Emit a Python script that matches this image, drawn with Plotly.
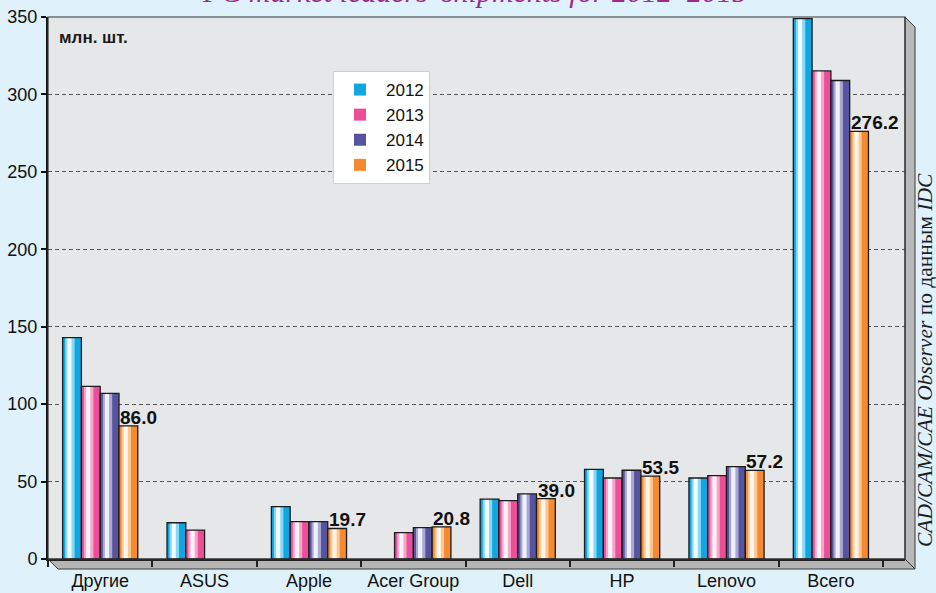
import plotly.graph_objects as go

categories = ["Другие", "ASUS", "Apple", "Acer Group", "Dell", "HP", "Lenovo", "Всего"]
years = ["2012", "2013", "2014", "2015"]
v2012 = [143.0, 23.4, 33.8, None, 38.7, 57.9, 52.3, 349.0]
v2013 = [111.5, 18.7, 24.1, 17.0, 37.7, 52.3, 53.8, 315.2]
v2014 = [107.0, None, 24.1, 20.2, 42.0, 57.3, 59.6, 309.0]
v2015 = [86.0, None, 19.7, 20.8, 39.0, 53.5, 57.2, 276.2]
series = [v2012, v2013, v2014, v2015]

# (base, light, core) colours for the cylinder-like shading
palette = [
    ("#12a6e0", "#86d8f6", "#f2fbff"),
    ("#ec4f97", "#f7a6cb", "#fff2f8"),
    ("#56549f", "#a9a8d4", "#f0f0fc"),
    ("#f58a30", "#fbc793", "#fff5ea"),
]

W, H = 936, 593
L, R, T, B = 48, 31, 17, 34
pw, ph = W - L - R, H - T - B
xr = [-0.5, 7.71]
ppu = pw / (xr[1] - xr[0])

bw = 0.18
fig = go.Figure()
for i, (yr, vals) in enumerate(zip(years, series)):
    base, light, core = palette[i]
    off = -0.36 + bw * i
    fig.add_trace(go.Bar(x=categories, y=vals, name=yr, width=bw, offset=off,
                         marker=dict(color=base, line=dict(width=0)),
                         hoverinfo="skip", legendgroup=yr))
    fig.add_trace(go.Bar(x=categories, y=vals, name=yr, width=0.09, offset=off + 0.025,
                         marker=dict(color=light, line=dict(width=0)),
                         hoverinfo="skip", showlegend=False, legendgroup=yr))
    fig.add_trace(go.Bar(x=categories, y=vals, name=yr, width=0.04, offset=off + 0.045,
                         marker=dict(color=core, line=dict(width=0)),
                         hoverinfo="skip", showlegend=False, legendgroup=yr))
    fig.add_trace(go.Bar(x=categories, y=vals, name=yr, width=bw, offset=off,
                         marker=dict(color="rgba(0,0,0,0)", line=dict(width=1.3, color="#1c1c1c")),
                         hoverinfo="skip", showlegend=False, legendgroup=yr))


def px(x):
    return (x - L) / pw


def py(y):
    return (T + ph - y) / ph


shapes = [
    # floor
    dict(type="path", xref="paper", yref="paper", layer="below",
         path=f"M {px(48)} {py(559)} L {px(905)} {py(559)} L {px(915)} {py(569)} L {px(58)} {py(569)} Z",
         fillcolor="#b5b5b5", line=dict(color="#3a3a3a", width=1)),
    # side wall
    dict(type="path", xref="paper", yref="paper", layer="below",
         path=f"M {px(905)} {py(17)} L {px(915)} {py(27)} L {px(915)} {py(569)} L {px(905)} {py(559)} Z",
         fillcolor="#b9b9b9", line=dict(color="#3a3a3a", width=1)),
    # back wall border
    dict(type="rect", xref="paper", yref="paper", layer="above",
         x0=0, x1=1, y0=0, y1=1, line=dict(color="#333333", width=1.2)),
]

annotations = []
for cat, v in zip(categories, v2015):
    if v is None:
        continue
    annotations.append(dict(x=cat, y=v, xref="x", yref="y", text=f"<b>{v:.1f}</b>",
                            showarrow=False, xanchor="left", yanchor="bottom",
                            xshift=bw * ppu - 1, yshift=-4,
                            font=dict(family="Liberation Sans, Arial", size=19, color="#111111")))

annotations += [
    dict(xref="paper", yref="paper", x=px(57), y=py(37), xanchor="left", yanchor="middle",
         text="<b>млн. шт.</b>", showarrow=False,
         font=dict(family="Liberation Sans, Arial", size=17, color="#1a1a1a")),
    dict(xref="paper", yref="paper", x=px(925), y=py(360), xanchor="center", yanchor="middle",
         text="<i>CAD/CAM/CAE Observer</i> по данным <i>IDC</i>", textangle=-90, showarrow=False,
         font=dict(family="Liberation Serif, Times New Roman", size=21.5, color="#1e1e1e")),
    dict(xref="paper", yref="paper", x=px(474), y=py(10), xanchor="center", yanchor="bottom",
         text="<i>PC market leaders' shipments for 2012–2015</i>", showarrow=False,
         font=dict(family="Liberation Serif, Times New Roman", size=30, color="#9b2b93")),
]

fig.update_layout(
    width=W, height=H,
    margin=dict(l=L, r=R, t=T, b=B, autoexpand=False),
    paper_bgcolor="#dff1fb",
    plot_bgcolor="#e6e7e9",
    barmode="overlay",
    font=dict(family="Liberation Sans, Arial", size=18, color="#111111"),
    showlegend=True,
    legend=dict(x=px(333), y=py(71), xanchor="left", yanchor="top",
                bgcolor="#ffffff", bordercolor="#cfcfcf", borderwidth=1,
                font=dict(size=17, color="#111111"), traceorder="normal",
                tracegroupgap=0, itemwidth=42),
    shapes=shapes,
    annotations=annotations,
    xaxis=dict(type="category", categoryorder="array", categoryarray=categories,
               range=xr, showgrid=False, zeroline=False, automargin=False,
               showline=True, linecolor="#222222", linewidth=1.5,
               ticks="outside", tickson="boundaries", ticklen=6, tickcolor="#222222",
               tickwidth=1.5, ticklabelstandoff=5,
               tickfont=dict(size=18, color="#111111")),
    yaxis=dict(range=[0, 350], dtick=50, showgrid=True, gridcolor="#555555",
               griddash="4px,3px", gridwidth=1, zeroline=False, automargin=False,
               showline=True, linecolor="#111111", linewidth=2,
               ticks="outside", ticklen=5, tickcolor="#111111", tickwidth=1.5,
               tickfont=dict(size=18, color="#111111")),
)

fig.write_html("out.html", config={"displayModeBar": False},
               post_script="document.body.style.margin='0';document.body.style.overflow='hidden';")
